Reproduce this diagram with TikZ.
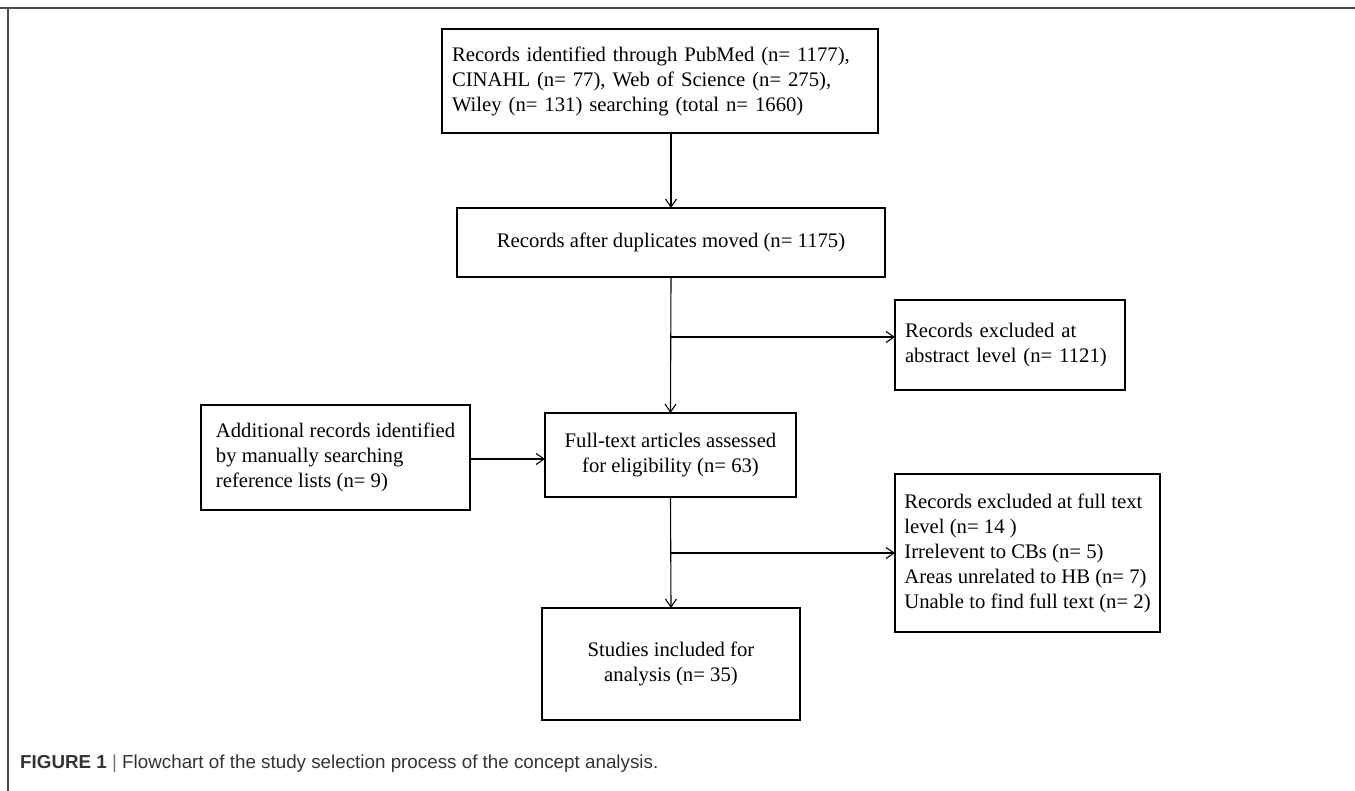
\documentclass[tikz,border=0pt]{standalone}
\usepackage{fontspec}
\setmainfont{Liberation Serif}
\setsansfont{Liberation Sans}
\usetikzlibrary{arrows.meta}

\begin{document}
\begin{tikzpicture}[x=1pt, y=-1pt,
    box/.style={draw, line width=1.4pt, inner sep=0pt, outer sep=0pt,
        font=\fontsize{20.7}{25}\selectfont},
    link/.style={line width=1.1pt, -{Straight Barb[length=8pt, width=11pt]}}]
    \useasboundingbox (0,0) rectangle (1355,791);
    % Frame
    \draw[line width=1.8pt, black!70] (0,8) -- (1355,8);
    \draw[line width=1.4pt, black!70] (8,8) -- (8,791);

    % Nodes
    \node[box, minimum height=104pt, inner xsep=10pt, text width=416pt, align=left] (ident) at (660,81)
        {Records identified through PubMed (n= 1177),\\CINAHL (n= 77), Web of Science (n= 275),\\Wiley (n= 131) searching (total n= 1660)};
    \node[box, minimum width=428pt, minimum height=69pt, align=center] (dupl) at (671,242.5)
        {Records after duplicates moved (n= 1175)};
    \node[box, minimum height=90pt, inner xsep=10pt, text width=210pt, align=left] (abstr) at (1010,345)
        {Records excluded at\\abstract level (n= 1121)};
    \node[box, minimum width=251pt, minimum height=84pt, align=center] (full) at (670.5,455)
        {Full-text articles assessed\\for eligibility (n= 63)};
    \node[box, minimum width=269pt, minimum height=105pt, align=left] (addit) at (335.5,457.5)
        {Additional records identified\\by manually searching\\reference lists (n= 9)};
    \node[box, minimum width=265pt, minimum height=158pt, align=left] (fullex) at (1027.5,553)
        {Records excluded at full text\\level (n= 14 )\\Irrelevent to CBs (n= 5)\\Areas unrelated to HB (n= 7)\\Unable to find full text (n= 2)};
    \node[box, minimum width=258pt, minimum height=112pt, align=center] (incl) at (671,664)
        {Studies included for\\analysis (n= 35)};

    % Branch points
    \coordinate (br1) at (671,337);
    \coordinate (br2) at (671,553);

    % Edges
    \draw[link] (ident.south -| 671,0) -- (dupl.north -| 671,0);
    \draw[link] (dupl.south) -- (full.north);
    \draw[link] (br1) -- (br1 -| abstr.west);
    \draw[link] (addit.east |- 0,459) -- (full.west |- 0,459);
    \draw[link] (full.south) -- (incl.north);
    \draw[link] (br2) -- (fullex.west);

    % Caption
    \node[anchor=west, inner sep=0pt, font=\sffamily\fontsize{18.8}{22}\selectfont, text=black!80] (capt) at (20,764)
        {\textbf{FIGURE 1} {\color{black!55}|} Flowchart of the study selection process of the concept analysis.};
\end{tikzpicture}
\end{document}
